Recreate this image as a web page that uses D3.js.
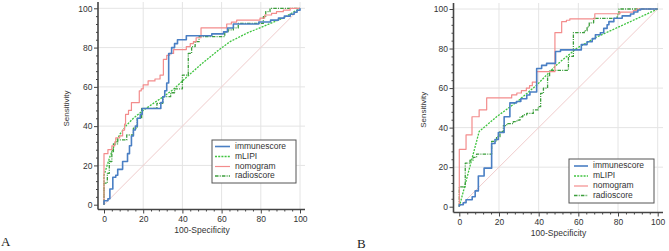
<!DOCTYPE html>
<html><head><meta charset="utf-8">
<script src="https://cdn.jsdelivr.net/npm/d3@7/dist/d3.min.js"></script>
<style>
html,body{margin:0;padding:0;background:#fff;}
svg{display:block;}
</style></head>
<body>
<svg id="c" width="669" height="251"></svg>
<script>
// ---- data: ROC points as [100-Specificity, Sensitivity] (step-after for empirical curves) ----
const seriesNames = ["immunescore","mLIPI","nomogram","radioscore"];
const majorTicks = [0,20,40,60,80,100];
const panelLabels = ["A","B"];

const aImmune = [[0,0],[0,2],[2,3],[3,8],[4.5,14],[6,15],[7,18],[9.5,22],[12,26],[13,30],[14,35],[15,38],[16,40],[17,44],[18.5,46],[19.5,49],[29,52],[30,55],[31,58],[32,62],[33,77],[34.5,80],[36,82],[37.5,84],[42,86],[55,87],[61,88],[63,90],[66,92],[79,93],[85,94],[89,95],[92,96],[95,97],[97,98],[98.5,99],[100,100]];
const aMlipi = [[0,0],[0,15],[1.4,19.4],[3,24.4],[5.6,31],[8.2,36],[11.6,40.6],[15,44],[20,48],[25.2,51.6],[30.3,55],[35.4,58.7],[42.2,65],[49,71],[57.5,78],[64.3,83],[72.8,87.3],[83,91.5],[91.5,95],[100,100]];
const aNomo = [[0,0],[0,26],[2,28],[4,30],[5.5,32],[6,34],[8,35],[9.5,38],[10.5,41],[11,46],[12.5,48],[14,52],[18,58],[19,59],[20,61],[22.5,63],[26,64],[28.6,66],[30.3,74],[32,76],[33.5,77],[35.5,79],[42,80.5],[44,82],[45.6,83],[47,85],[49.5,90],[62.6,92],[65,93],[67.7,94],[79.6,95],[82,96.6],[85.5,97.4],[88,98.3],[91.5,99.1],[95,100],[100,100]];
const aRadio = [[0,0],[0,11],[1.7,16],[2.7,22],[4,27],[4.8,31],[7,33],[11.6,35.5],[15,39],[17,44],[19.2,49],[27,51.6],[30,55],[34,57],[36,59],[40,66],[43,77],[44.7,80.5],[46.5,83],[48.5,85.6],[61.6,88],[63.3,89],[66,90],[68.5,92.3],[81.3,95.7],[82.5,98.3],[84.7,100],[100,100]];

const bImmune = [[0,0],[0,1],[2,2],[3.4,3.5],[6.5,5],[8,8],[9.6,15.5],[12.5,19.5],[16.3,32],[18,34],[19.7,37.5],[22.6,45.5],[25.5,52.5],[28.8,53.2],[31,54.6],[34,56.5],[35.6,58],[39,69.9],[41.5,71.5],[44,72.5],[48.5,78.5],[51,79.3],[61.5,82],[64.4,83.4],[67,85],[68.6,87],[71.1,88],[72.8,90.2],[74.5,92],[75.4,93.6],[77.9,95.3],[82.1,96.5],[86.3,97.5],[88,98.5],[90,99.5],[91.4,100],[100,100]];
const bMlipi = [[0,0],[10,38],[18.8,45.5],[29,53],[39,61.5],[49,71.7],[59,80],[69,85.7],[82.7,92],[100,100]];
const bNomo = [[0,0],[0,29],[3.4,36.3],[6.4,45.5],[10,49],[13.8,55],[26.4,56.6],[29,57.5],[31.3,58.7],[33.8,60],[35.4,61.2],[36.8,63],[39,68.3],[48.2,88],[51.6,93.6],[54,94.3],[55.7,95],[68.3,97.6],[81,98.4],[87.7,99.2],[89.4,100],[100,100]];
const bRadio = [[0,0],[0,10],[3,22],[5.4,23.6],[7,25],[8.7,26.6],[16.3,33],[18.8,35.4],[20.5,38],[22.2,41],[23.9,42],[27.2,43],[29,43.8],[30.6,45.5],[32,46.5],[34,47.2],[37.3,49],[39.8,50.6],[41,57.3],[42.4,60],[44.5,66],[45.5,69],[55,76],[57.5,88],[63,89],[64.4,91],[65.5,93],[67.7,95.3],[79.6,97],[80.5,100],[100,100]];
const diagonal = [[0,0],[100,100]];

// ---- styles ----
const styles = {
  immunescore:{color:"#4a7fc4", width:1.6, dash:null, curve:d3.curveStepAfter},
  mLIPI:{color:"#3fc43f", width:1.3, dash:"2,1.2", curve:d3.curveLinear},
  nomogram:{color:"#f38c8c", width:1.2, dash:null, curve:d3.curveStepAfter},
  radioscore:{color:"#3c9e3c", width:1.3, dash:"3.5,1.2,1,1.2", curve:d3.curveStepAfter}
};
const SANS = "'Liberation Sans',Arial,sans-serif";
const SERIF = "'Liberation Serif','Times New Roman',serif";

const panels = [
  {label:panelLabels[0], data:{immunescore:aImmune,mLIPI:aMlipi,nomogram:aNomo,radioscore:aRadio},
   x0:104, x1:300, y0:204.7, y1:8.3, axX:98, axY:209.5, axRight:305, axTop:2,
   ylabX:67, xlabY:233, labX:1, labY:246,
   leg:{x:212,y:140,w:84,h:43,rows:[146.5,156.5,166.5,176],lx0:215,lx1:230,tx:235}},
  {label:panelLabels[1], data:{immunescore:bImmune,mLIPI:bMlipi,nomogram:bNomo,radioscore:bRadio},
   x0:459.3, x1:657.7, y0:206.7, y1:9, axX:453.5, axY:212.5, axRight:663, axTop:3,
   ylabX:424, xlabY:236, labX:357, labY:248,
   leg:{x:569,y:159,w:85,h:44,rows:[166,176,186,195.5],lx0:574,lx1:588,tx:593}}
];

const svg = d3.select("#c");
const minorTicks = d3.range(0,101,4).filter(v=>v%20!==0);

panels.forEach(p=>{
  const g = svg.append("g");
  const x = d3.scaleLinear().domain([0,100]).range([p.x0,p.x1]);
  const y = d3.scaleLinear().domain([0,100]).range([p.y0,p.y1]);

  // grid
  g.append("g").selectAll("line").data(majorTicks.slice(1)).join("line")
    .attr("x1",d=>x(d)).attr("x2",d=>x(d)).attr("y1",p.axTop).attr("y2",p.axY)
    .attr("stroke","#e4e4e4").attr("stroke-width",1);
  g.append("g").selectAll("line").data(majorTicks.slice(1)).join("line")
    .attr("y1",d=>y(d)).attr("y2",d=>y(d)).attr("x1",p.axX).attr("x2",p.axRight)
    .attr("stroke","#e4e4e4").attr("stroke-width",1);

  // diagonal
  const line = d3.line().x(d=>x(d[0])).y(d=>y(d[1]));
  g.append("path").attr("d",line(diagonal)).attr("fill","none")
    .attr("stroke","#f0cccc").attr("stroke-width",1);

  // curves
  ["mLIPI","radioscore","nomogram","immunescore"].forEach(name=>{
    const s = styles[name];
    g.append("path").attr("d",d3.line().x(d=>x(d[0])).y(d=>y(d[1])).curve(s.curve)(p.data[name]))
      .attr("fill","none").attr("stroke",s.color).attr("stroke-width",s.width)
      .attr("stroke-dasharray",s.dash).attr("stroke-linejoin","round");
  });

  // axes
  const xa = g.append("g").attr("transform",`translate(0,${p.axY})`)
    .call(d3.axisBottom(x).tickValues(majorTicks).tickSize(4).tickPadding(2));
  xa.select(".domain").remove();
  const xm = g.append("g").attr("transform",`translate(0,${p.axY})`)
    .call(d3.axisBottom(x).tickValues(minorTicks).tickSize(2).tickFormat(""));
  xm.select(".domain").remove();
  const ya = g.append("g").attr("transform",`translate(${p.axX},0)`)
    .call(d3.axisLeft(y).tickValues(majorTicks).tickSize(4).tickPadding(1.5));
  ya.select(".domain").remove();
  const ym = g.append("g").attr("transform",`translate(${p.axX},0)`)
    .call(d3.axisLeft(y).tickValues(minorTicks).tickSize(2).tickFormat(""));
  ym.select(".domain").remove();
  g.selectAll(".tick line").attr("stroke","#444").attr("stroke-width",1);
  g.selectAll(".tick text").attr("font-size","8.5px").attr("fill","#333").attr("font-family",SANS);

  g.append("line").attr("x1",p.axX).attr("x2",p.axRight).attr("y1",p.axY).attr("y2",p.axY)
    .attr("stroke","#444").attr("stroke-width",1.6);
  g.append("line").attr("x1",p.axX).attr("x2",p.axX).attr("y1",p.axTop).attr("y2",p.axY)
    .attr("stroke","#444").attr("stroke-width",1.6);

  // axis titles
  g.append("text").attr("x",(p.x0+p.x1)/2).attr("y",p.xlabY).attr("text-anchor","middle")
    .attr("font-family",SANS).attr("fill","#333").attr("font-size","8.5px").text("100-Specificity");
  g.append("text").attr("transform",`translate(${p.ylabX},${(p.y0+p.y1)/2+2}) rotate(-90)`)
    .attr("text-anchor","middle").attr("dominant-baseline","middle")
    .attr("font-family",SANS).attr("fill","#333").attr("font-size","8px").text("Sensitivity");

  // panel label
  g.append("text").attr("x",p.labX).attr("y",p.labY)
    .attr("font-family",SERIF).attr("font-size","13px")
    .attr("fill","#222").text(p.label);

  // legend
  const L = p.leg;
  g.append("rect").attr("x",L.x).attr("y",L.y).attr("width",L.w).attr("height",L.h)
    .attr("fill","#fff").attr("stroke","#555").attr("stroke-width",1);
  seriesNames.forEach((name,i)=>{
    const s = styles[name];
    g.append("line").attr("x1",L.lx0).attr("x2",L.lx1).attr("y1",L.rows[i]).attr("y2",L.rows[i])
      .attr("stroke",s.color).attr("stroke-width",s.width).attr("stroke-dasharray",s.dash);
    g.append("text").attr("x",L.tx).attr("y",L.rows[i]).attr("dominant-baseline","middle")
      .attr("font-family",SANS).attr("fill","#333").attr("font-size","8.5px").text(name);
  });
});
</script>
</body></html>
